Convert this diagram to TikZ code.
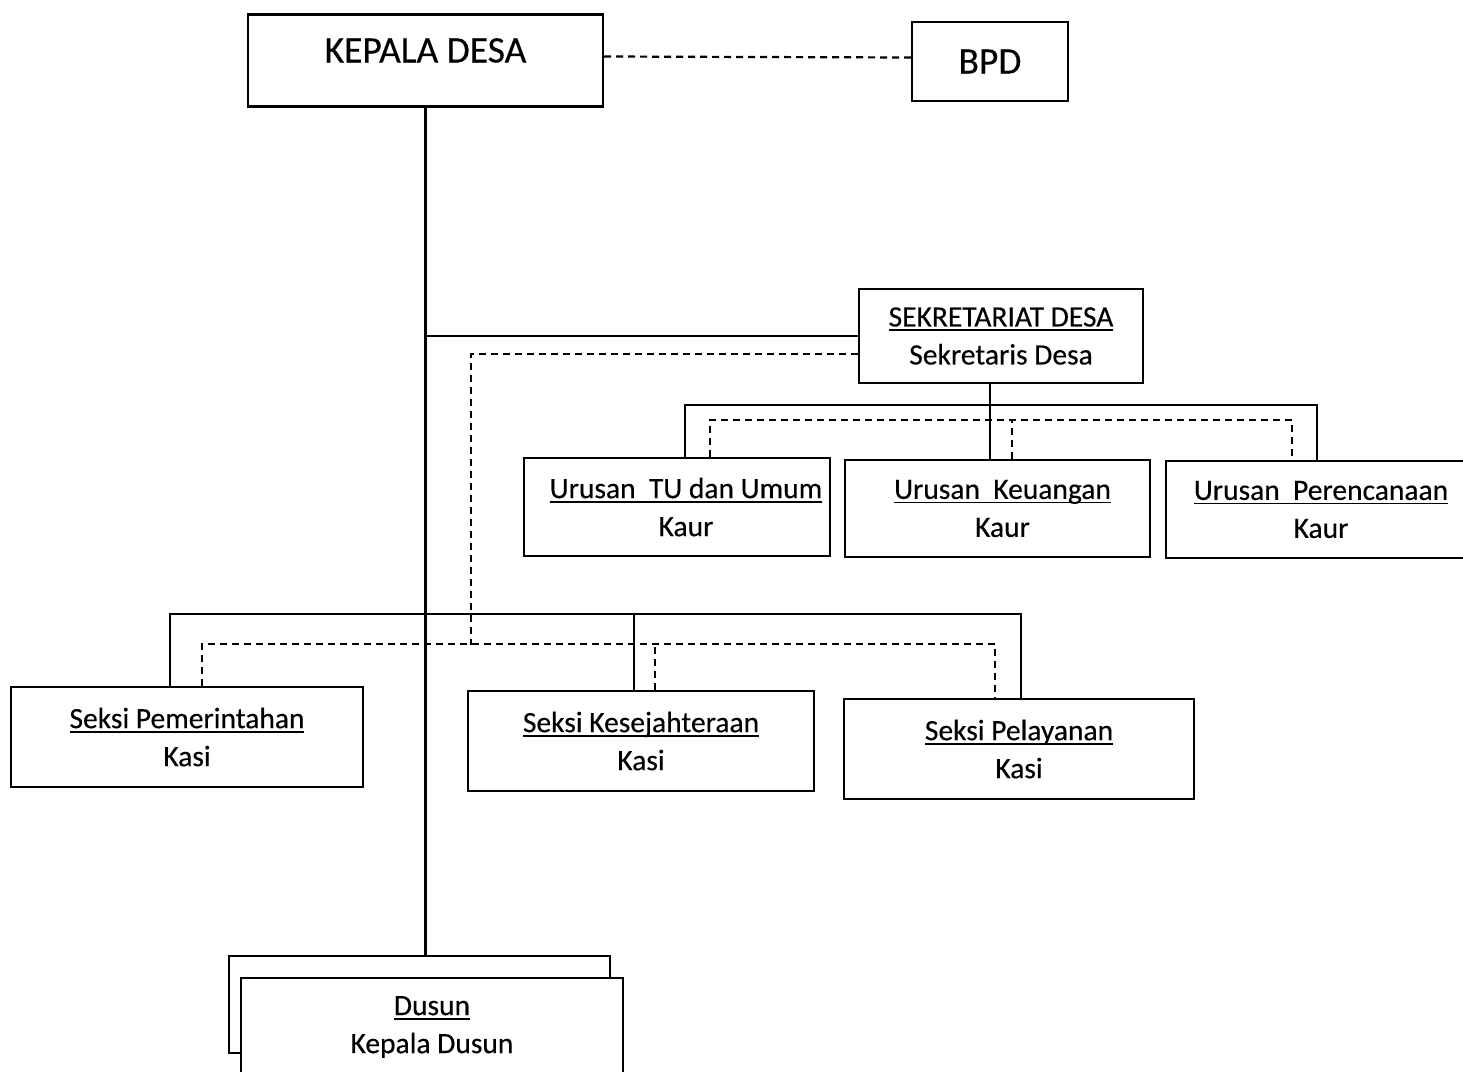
\documentclass[tikz,border=0pt]{standalone}
\usepackage{fontspec}
\setmainfont{Carlito}[FakeBold=0.3]
% heavier, lower underline for the unit names
\newcommand{\unitname}[1]{\setbox0\hbox{#1}\rlap{\rule[-4.5pt]{\wd0}{1.8pt}}\box0}
\begin{document}
\begin{tikzpicture}[x=1pt,y=-1pt,
  line width=2.2pt,
  orgbox/.style={draw, fill=white, inner sep=0pt, align=center,
    font=\fontsize{29.5}{38}\selectfont},
  bigbox/.style={orgbox, font=\fontsize{37.5}{42}\selectfont},
  dashline/.style={dash pattern=on 7pt off 5pt},
]
\useasboundingbox (0,0) rectangle (1463,1071);
\clip (0,0) rectangle (1463,1071);
\fill[white] (0,0) rectangle (1463,1071);

% top level
\node[bigbox, minimum width=355pt, minimum height=92pt, text height=25pt, text depth=21pt]
  (kd) at (425.5,60.5) {KEPALA DESA};
\node[bigbox, minimum width=156pt, minimum height=79pt] (bpd) at (990,61.5) {BPD};
\draw[dashline] ([yshift=4pt]kd.east) -- ([yshift=4pt]bpd.west);

% secretariat and its sections
\node[orgbox, minimum width=284pt, minimum height=94pt] (sek) at (1001,336)
  {\unitname{SEKRETARIAT DESA}\\Sekretaris Desa};
\node[orgbox, minimum width=306pt, minimum height=98pt] (tu) at (677,507)
  {\hspace*{18pt}\unitname{Urusan\ \ TU dan Umum}\\\hspace*{18pt}Kaur};
\node[orgbox, minimum width=305pt, minimum height=97pt] (keu) at (997.5,508.5)
  {\hspace*{10pt}\unitname{Urusan\ \ Keuangan}\\\hspace*{10pt}Kaur};
\node[orgbox, minimum width=310pt, minimum height=97pt] (per) at (1321,509.5)
  {\unitname{Urusan\ \ Perencanaan}\\Kaur};

% technical sections
\node[orgbox, minimum width=352pt, minimum height=100pt] (pem) at (187,737)
  {\unitname{Seksi Pemerintahan}\\Kasi};
\node[orgbox, minimum width=346pt, minimum height=100pt] (kes) at (641,741)
  {\unitname{Seksi Kesejahteraan}\\Kasi};
\node[orgbox, minimum width=350pt, minimum height=100pt] (pel) at (1019,749)
  {\unitname{Seksi Pelayanan}\\Kasi};

% hamlets (stacked boxes)
\node[orgbox, minimum width=381pt, minimum height=97pt] (dback) at (419.5,1004.5) {};
\node[orgbox, minimum width=382pt, minimum height=98pt] (dfront) at (432,1027)
  {\unitname{Dusun}\\Kepala Dusun};

% main command line
\draw (kd.south) -- (kd.south |- dback.north);
\draw (sek.west) -- (sek.west -| kd.south);

% secretary coordination with the sections
\coordinate (sekdash) at (471,645);
\draw[dashline] ([yshift=-18pt]sek.west) -| (sekdash);

% secretariat to its sections
\draw ([xshift=-11pt]sek.south) -- ([xshift=-11pt]sek.south |- keu.north);
\draw ([xshift=8pt]tu.north) -- ++(0,-52) -| ([xshift=-4pt]per.north);
\draw[dashline] ([xshift=33pt]tu.north) -- ++(0,-37) -| ([xshift=-29pt]per.north);
\draw[dashline] ([xshift=14.5pt]keu.north) -- ++(0,-39);

% head to the sections
\draw ([xshift=-17pt]pem.north) -- ++(0,-72) -| ([xshift=2pt]pel.north);
\draw ([xshift=-7pt]kes.north) -- ++(0,-76);
\draw[dashline] ([xshift=15pt]pem.north) -- ++(0,-42) -| ([xshift=-24pt]pel.north);
\draw[dashline] ([xshift=14pt]kes.north) -- ++(0,-46);
\end{tikzpicture}
\end{document}
